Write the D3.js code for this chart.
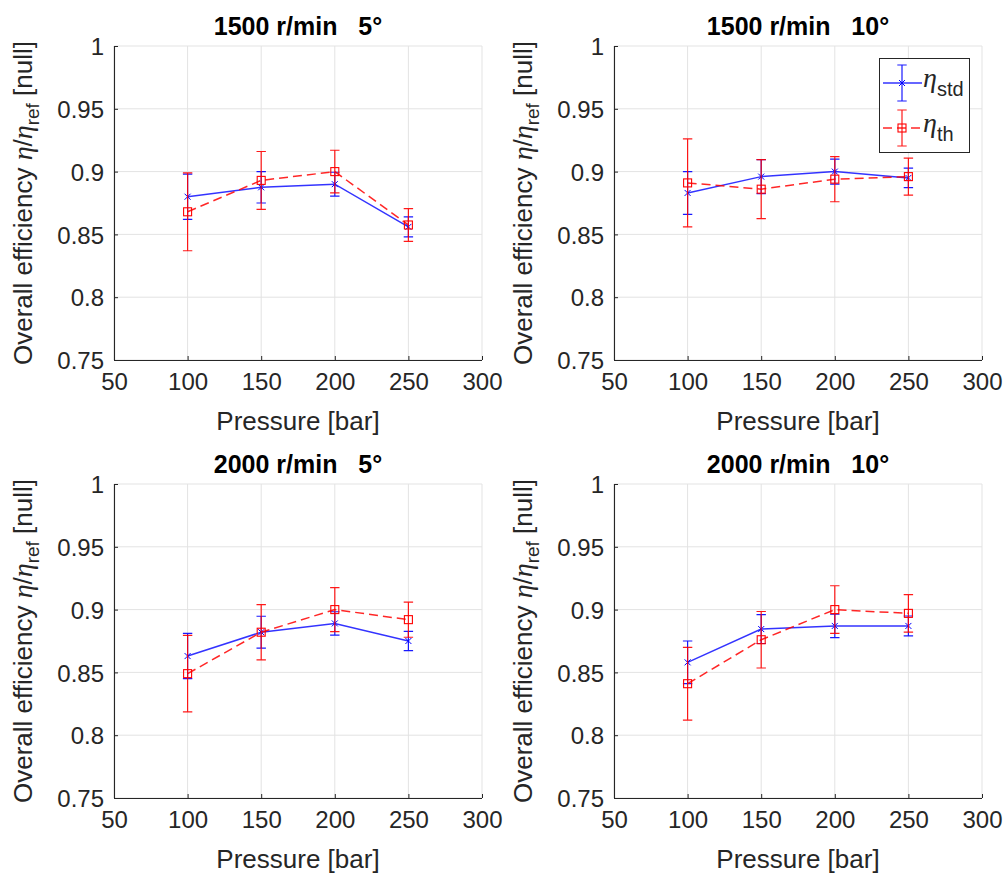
<!DOCTYPE html>
<html><head><meta charset="utf-8">
<script src="https://cdn.jsdelivr.net/npm/d3@7"></script>
<style>
body{margin:0;background:#fff;}
svg{display:block;font-family:"Liberation Sans",Arial,sans-serif;}
</style></head>
<body>
<svg id="chart" width="1008" height="876"></svg>
<script>
const pressures = [100, 150, 200, 250];
const panelTitles = ["1500 r/min   5°", "1500 r/min   10°", "2000 r/min   5°", "2000 r/min   10°"];
const xTicks = [50, 100, 150, 200, 250, 300];
const yTicks = [0.75, 0.8, 0.85, 0.9, 0.95, 1];
const seriesNames = ["std", "th"];

const stdValues = [
  [0.880, 0.8875, 0.890, 0.856],
  [0.883, 0.896, 0.900, 0.895],
  [0.863, 0.882, 0.889, 0.875],
  [0.858, 0.8845, 0.887, 0.887]
];
const stdErrors = [
  [0.018, 0.0125, 0.0095, 0.008],
  [0.017, 0.0135, 0.010, 0.0077],
  [0.018, 0.0127, 0.0093, 0.0077],
  [0.017, 0.0115, 0.0093, 0.0079]
];
const thValues = [
  [0.868, 0.893, 0.900, 0.8575],
  [0.891, 0.886, 0.894, 0.896],
  [0.849, 0.882, 0.900, 0.892],
  [0.841, 0.876, 0.900, 0.897]
];
const thErrors = [
  [0.031, 0.023, 0.017, 0.013],
  [0.035, 0.0235, 0.018, 0.0148],
  [0.0305, 0.022, 0.0175, 0.014],
  [0.029, 0.0225, 0.019, 0.015]
];

const svg = d3.select("#chart");
const W = 368, H = 314;
const lefts = [114, 614], tops = [46, 484];
const textCol = "#262626";
const gridCol = "#e3e3e3";

const x = d3.scaleLinear().domain([50, 300]).range([0, W]);
const y = d3.scaleLinear().domain([0.75, 1]).range([H, 0]);

const styles = {
  std: {color: "#0000ff", dash: null, marker: "x", lineOpacity: 0.8},
  th: {color: "#ff0000", dash: "9,5", marker: "square", lineOpacity: 0.85}
};

function drawMarker(g, type, cx, cy, color) {
  if (type === "x") {
    const s = 3;
    g.append("path").attr("d", `M${cx-s},${cy-s}L${cx+s},${cy+s}M${cx-s},${cy+s}L${cx+s},${cy-s}`)
      .attr("stroke", color).attr("stroke-width", 1).attr("fill", "none");
  } else {
    const s = 4;
    g.append("rect").attr("x", cx-s).attr("y", cy-s).attr("width", 2*s).attr("height", 2*s)
      .attr("stroke", color).attr("stroke-width", 1.1).attr("fill", "none");
  }
}

function drawErrorBar(g, cx, yTop, yBot, color) {
  const c = 4.7;
  g.append("path")
    .attr("d", `M${cx},${yTop}L${cx},${yBot}M${cx-c},${yTop}L${cx+c},${yTop}M${cx-c},${yBot}L${cx+c},${yBot}`)
    .attr("stroke", color).attr("stroke-width", 1.2).attr("fill", "none").attr("opacity", 0.9);
}

panelTitles.forEach((title, i) => {
  const col = i % 2, row = Math.floor(i / 2);
  const g = svg.append("g").attr("transform", `translate(${lefts[col]},${tops[row]})`);

  // grid
  g.selectAll(".gx").data(xTicks).join("line")
    .attr("x1", d => x(d)).attr("x2", d => x(d)).attr("y1", 0).attr("y2", H)
    .attr("stroke", gridCol).attr("stroke-width", 1);
  g.selectAll(".gy").data(yTicks).join("line")
    .attr("x1", 0).attr("x2", W).attr("y1", d => y(d)).attr("y2", d => y(d))
    .attr("stroke", gridCol).attr("stroke-width", 1);

  // axes
  const xAxis = d3.axisBottom(x).tickValues(xTicks).tickSize(-4).tickPadding(13).tickFormat(d3.format("d"));
  const yAxis = d3.axisLeft(y).tickValues(yTicks).tickSize(-4).tickPadding(10).tickFormat(d => d === 1 ? "1" : String(d));
  const gx = g.append("g").attr("transform", `translate(0,${H})`).call(xAxis);
  const gy = g.append("g").call(yAxis);
  [gx, gy].forEach(a => {
    a.select(".domain").attr("stroke", textCol).attr("stroke-width", 1.1);
    a.selectAll(".tick line").attr("stroke", textCol).attr("stroke-width", 1);
    a.selectAll(".tick text").attr("fill", textCol).style("font-size", "24px")
      .style("font-family", "'Liberation Sans',Arial,sans-serif");
  });
  gx.select(".domain").attr("d", `M0,0.5H${W}`);
  gy.select(".domain").attr("d", `M0.5,0V${H}`);
  gx.selectAll(".tick text").attr("dy", "0.71em");
  gy.selectAll(".tick text").attr("dy", "0.36em");

  // title
  g.append("text").attr("x", W/2).attr("y", -11).attr("text-anchor", "middle")
    .attr("fill", "#000").style("font-size", "25px").style("font-weight", "bold")
    .style("white-space", "pre").text(title);

  // x label
  g.append("text").attr("x", W/2).attr("y", H + 70).attr("text-anchor", "middle")
    .attr("fill", textCol).style("font-size", "26px").text("Pressure [bar]");

  // y label
  const yl = g.append("text").attr("transform", `translate(-82,${H/2}) rotate(-90)`)
    .attr("text-anchor", "middle").attr("fill", textCol).style("font-size", "26px");
  yl.append("tspan").text("Overall efficiency ");
  yl.append("tspan").style("font-family", "'Liberation Serif','Times New Roman',serif").style("font-style", "italic").style("font-size", "28px").text("η");
  yl.append("tspan").text("/");
  yl.append("tspan").style("font-family", "'Liberation Serif','Times New Roman',serif").style("font-style", "italic").style("font-size", "28px").text("η");
  yl.append("tspan").attr("dy", 7).style("font-size", "19px").text("ref");
  yl.append("tspan").attr("dy", -7).text(" [null]");

  // series
  const sets = [
    {name: "std", vals: stdValues[i], errs: stdErrors[i]},
    {name: "th", vals: thValues[i], errs: thErrors[i]}
  ];
  sets.forEach(s => {
    const st = styles[s.name];
    const pts = pressures.map((p, j) => ({p, v: s.vals[j], e: s.errs[j]}));
    const sg = g.append("g");
    pts.forEach(d => drawErrorBar(sg, x(d.p), y(d.v + d.e), y(d.v - d.e), st.color));
    sg.append("path").datum(pts)
      .attr("d", d3.line().x(d => x(d.p)).y(d => y(d.v)))
      .attr("fill", "none").attr("stroke", st.color).attr("stroke-width", 1.5)
      .attr("stroke-opacity", st.lineOpacity)
      .attr("stroke-dasharray", st.dash);
    pts.forEach(d => drawMarker(sg, st.marker, x(d.p), y(d.v), st.color));
  });

  // legend in panel 2
  if (i === 1) {
    const lg = g.append("g").attr("transform", `translate(${879 - lefts[col]},${58 - tops[row]})`);
    lg.append("rect").attr("x", 0.5).attr("y", 0.5).attr("width", 90).attr("height", 94)
      .attr("fill", "#fff").attr("stroke", textCol).attr("stroke-width", 1);
    seriesNames.forEach((n, k) => {
      const st = styles[n];
      const cy = 25 + k * 45;
      lg.append("line").attr("x1", 4).attr("x2", 43).attr("y1", cy).attr("y2", cy)
        .attr("stroke", st.color).attr("stroke-width", 1.5).attr("stroke-opacity", st.lineOpacity)
        .attr("stroke-dasharray", st.dash);
      drawErrorBar(lg, 23, cy - 18, cy + 18, st.color);
      drawMarker(lg, st.marker, 23, cy, st.color);
      const t = lg.append("text").attr("x", 44).attr("y", cy + 4).attr("fill", textCol);
      t.append("tspan").style("font-family", "'Liberation Serif','Times New Roman',serif")
        .style("font-style", "italic").style("font-size", "28px").text("η");
      t.append("tspan").attr("dy", 9).style("font-size", "20px").text(n);
    });
  }
});
</script>
</body></html>
